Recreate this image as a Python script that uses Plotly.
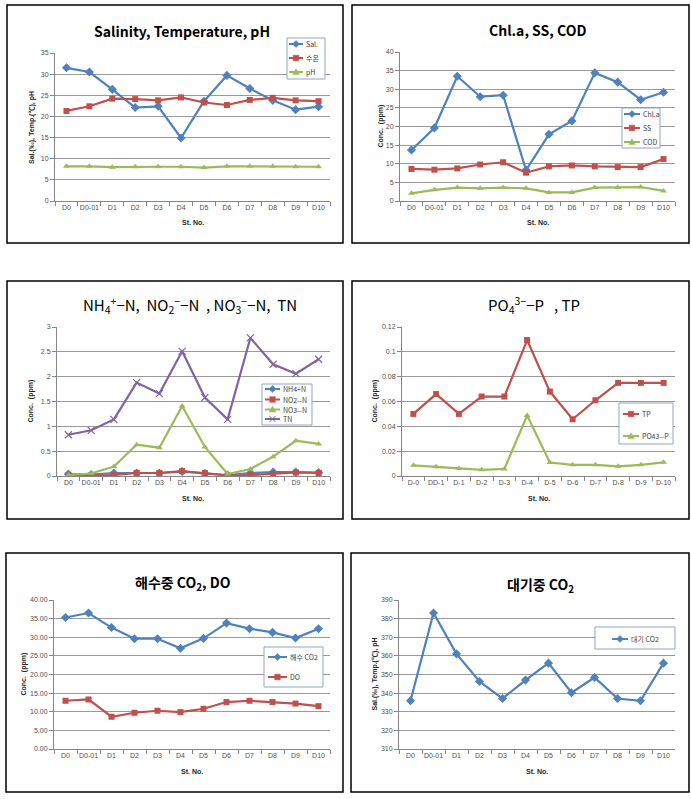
import plotly.graph_objects as go

W, H = 691, 799

st = ["D0", "D0-01", "D1", "D2", "D3", "D4", "D5", "D6", "D7", "D8", "D9", "D10"]
st_p = ["D-0", "DD-1", "D-1", "D-2", "D-3", "D-4", "D-5", "D-6", "D-7", "D-8", "D-9", "D-10"]

# Panel 1
sal = [31.5, 30.5, 26.4, 22.1, 22.4, 14.9, 23.6, 29.7, 26.6, 23.8, 21.6, 22.3]
temp = [21.3, 22.4, 24.2, 24.1, 23.8, 24.5, 23.3, 22.7, 23.9, 24.4, 23.8, 23.6]
ph = [8.2, 8.2, 8.0, 8.1, 8.1, 8.1, 7.9, 8.2, 8.2, 8.2, 8.1, 8.1]
# Panel 2
chla = [13.7, 19.6, 33.5, 28.0, 28.4, 8.3, 17.9, 21.5, 34.4, 31.9, 27.2, 29.2]
ss = [8.6, 8.4, 8.75, 9.8, 10.4, 7.6, 9.3, 9.55, 9.3, 9.1, 9.1, 11.25]
cod = [2.05, 3.0, 3.6, 3.4, 3.6, 3.4, 2.3, 2.3, 3.6, 3.6, 3.75, 2.7]
# Panel 3
nh4 = [0.04, 0.03, 0.06, 0.06, 0.06, 0.09, 0.05, 0.02, 0.06, 0.08, 0.08, 0.07]
no2 = [0.01, 0.01, 0.02, 0.06, 0.06, 0.10, 0.06, 0.01, 0.02, 0.04, 0.07, 0.06]
no3 = [0.02, 0.05, 0.19, 0.63, 0.57, 1.41, 0.585, 0.04, 0.14, 0.39, 0.71, 0.645]
tn = [0.83, 0.92, 1.14, 1.88, 1.66, 2.51, 1.58, 1.14, 2.78, 2.25, 2.06, 2.35]
# Panel 4
tp = [0.050, 0.066, 0.050, 0.064, 0.064, 0.1095, 0.068, 0.0457, 0.061, 0.075, 0.075, 0.075]
po4 = [0.0086, 0.0075, 0.006, 0.005, 0.0057, 0.0487, 0.0108, 0.009, 0.009, 0.0078, 0.009, 0.011]
# Panel 5
co2_sea = [35.3, 36.5, 32.6, 29.6, 29.6, 27.05, 29.7, 33.8, 32.3, 31.3, 29.8, 32.3]
do = [12.95, 13.3, 8.66, 9.73, 10.27, 9.9, 10.8, 12.6, 12.95, 12.6, 12.2, 11.5]
# Panel 6
co2_air = [335.9, 383.0, 361.1, 346.25, 337.1, 347.0, 356.1, 340.2, 348.4, 337.1, 335.9, 356.1]

BLUE, RED, GREEN, PURPLE = "#4F81BD", "#C0504D", "#9BBB59", "#8064A2"
FONT = "Liberation Sans, Noto Sans CJK KR, sans-serif"
KFONT = "Noto Sans CJK KR, Liberation Sans, sans-serif"


def px(x):
    return x / W


def py(y):
    return 1 - y / H


fig = go.Figure()

# legend geometry (pixels): box, item y centres, line x0/x1
panels = [
    dict(area=(55, 330, 53, 201), box=(7, 343, 5, 243), yr=(0, 35), dt=5, fmt="",
         cats=st, ytitle="Sal.(‰), Temp.(℃), pH", ytx=32,
         title="<b>Salinity, Temperature, pH</b>", tx=182, ty=31, tsize=14, xt_y=223,
         lbox=(287, 325, 38, 79), lys=[44, 58, 72], lx=(289, 303)),
    dict(area=(400, 675, 52, 201), box=(352, 689, 5, 243), yr=(0, 40), dt=5, fmt="",
         cats=st, ytitle="Conc.  (ppm)", ytx=380,
         title="<b>Chl.a, SS, COD</b>", tx=537, ty=30, tsize=14, xt_y=223,
         lbox=(622, 660, 108, 148), lys=[114, 128, 142], lx=(624, 640)),
    dict(area=(57, 330, 327, 476), box=(7, 343, 281, 519), yr=(0, 3), dt=0.5, fmt="",
         cats=st, ytitle="Conc.  (ppm)", ytx=30,
         title="NH<sub>4</sub><sup>+</sup>−N,  NO<sub>2</sub><sup>−</sup>−N  , NO<sub>3</sub><sup>−</sup>−N,  TN",
         tx=190, ty=305, tsize=15, xt_y=499,
         lbox=(262, 312, 384, 425), lys=[389, 399.5, 409.5, 419], lx=(265, 280)),
    dict(area=(402, 675, 327, 476), box=(352, 689, 281, 519), yr=(0, 0.12), dt=0.02, fmt="",
         cats=st_p, ytitle="Conc.  (ppm)", ytx=374,
         title="PO<sub>4</sub><sup>3−</sup>−P   , TP", tx=534, ty=305, tsize=15, xt_y=499,
         lbox=(619, 673, 403, 444), lys=[414, 436], lx=(623, 639)),
    dict(area=(54, 330, 600, 749), box=(6, 343, 553, 792), yr=(0, 40), dt=5, fmt=".2f",
         cats=st, ytitle="Conc.  (ppm)", ytx=23,
         title="<b>해수중 CO<sub>2</sub>, DO</b>", tx=183, ty=583, tsize=14, xt_y=771,
         lbox=(264, 323, 647, 687), lys=[657, 677], lx=(268, 287)),
    dict(area=(399, 675, 600, 749), box=(351, 689, 553, 792), yr=(310, 390), dt=10, fmt="",
         cats=st, ytitle="Sal.(‰), Temp.(℃), pH", ytx=374,
         title="<b>대기중 CO<sub>2</sub></b>", tx=540, ty=585, tsize=14, xt_y=771,
         lbox=(595, 675, 627, 649), lys=[639], lx=(612, 628)),
]

series = [
    [("Sal.", sal, BLUE, "diamond"), ("수온", temp, RED, "square"), ("pH", ph, GREEN, "triangle-up")],
    [("Chl.a", chla, BLUE, "diamond"), ("SS", ss, RED, "square"), ("COD", cod, GREEN, "triangle-up")],
    [("NH4+N", nh4, BLUE, "diamond"), ("NO2--N", no2, RED, "square"),
     ("NO3--N", no3, GREEN, "triangle-up"), ("TN", tn, PURPLE, "x-thin")],
    [("TP", tp, RED, "square"), ("PO43--P", po4, GREEN, "triangle-up")],
    [("해수 CO2", co2_sea, BLUE, "diamond"), ("DO", do, RED, "square")],
    [("대기 CO2", co2_air, BLUE, "diamond")],
]


def marker_path(sym, cx, cy):
    pts = None
    if sym == "diamond":
        pts = [(cx, cy - 3.5), (cx + 3.5, cy), (cx, cy + 3.5), (cx - 3.5, cy)]
    elif sym == "square":
        pts = [(cx - 2.8, cy - 2.8), (cx + 2.8, cy - 2.8), (cx + 2.8, cy + 2.8), (cx - 2.8, cy + 2.8)]
    elif sym == "triangle-up":
        pts = [(cx, cy - 3.2), (cx + 3.3, cy + 2.6), (cx - 3.3, cy + 2.6)]
    if pts is None:
        return None
    return "M " + " L ".join(f"{px(a):.5f},{py(b):.5f}" for a, b in pts) + " Z"


annotations = []
shapes = []
layout = {}
for i, (p, ser) in enumerate(zip(panels, series), start=1):
    x0, x1, y0, y1 = p["area"]
    sfx = "" if i == 1 else str(i)
    layout["xaxis" + sfx] = dict(
        domain=[px(x0), px(x1)], anchor="y" + sfx, type="category",
        categoryorder="array", categoryarray=p["cats"], range=[-0.5, 11.5],
        showgrid=False, showline=True, linecolor="#868686", linewidth=1,
        ticks="outside", tickson="boundaries", ticklen=4, tickcolor="#868686",
        tickangle=0, automargin=False,
        tickfont=dict(size=7, color="#505050", family=FONT), fixedrange=True,
    )
    layout["yaxis" + sfx] = dict(
        domain=[py(y1), py(y0)], anchor="x" + sfx, range=list(p["yr"]), dtick=p["dt"],
        tickformat=p["fmt"], showgrid=True, gridcolor="#9a9a9a", gridwidth=1,
        showline=True, linecolor="#868686", linewidth=1, zeroline=False,
        ticks="outside", ticklen=4, tickcolor="#868686", automargin=False,
        tickfont=dict(size=7, color="#505050", family=FONT), fixedrange=True,
    )
    for j, (name, vals, col, sym) in enumerate(ser):
        if sym == "x-thin":
            marker = dict(symbol=sym, size=7, color=col, line=dict(width=1.2, color=col))
        else:
            marker = dict(symbol=sym, size=6 if sym != "diamond" else 7, color=col)
        fig.add_trace(go.Scatter(
            x=p["cats"], y=vals, name=name, mode="lines+markers",
            line=dict(color=col, width=2.2), marker=marker,
            xaxis="x" + sfx, yaxis="y" + sfx, showlegend=False,
        ))
    # legend box
    lx0, lx1, ly0, ly1 = p["lbox"]
    shapes.append(dict(type="rect", xref="paper", yref="paper", x0=px(lx0), x1=px(lx1),
                       y0=py(ly1), y1=py(ly0), line=dict(color="#8ea4c3", width=1),
                       fillcolor="white", layer="above"))
    for (name, vals, col, sym), ly in zip(ser, p["lys"]):
        sx0, sx1 = p["lx"]
        shapes.append(dict(type="line", xref="paper", yref="paper", x0=px(sx0), x1=px(sx1),
                           y0=py(ly), y1=py(ly), line=dict(color=col, width=2), layer="above"))
        cx = (sx0 + sx1) / 2
        mp = marker_path(sym, cx, ly)
        if mp:
            shapes.append(dict(type="path", xref="paper", yref="paper", path=mp,
                               fillcolor=col, line=dict(color=col, width=0.5), layer="above"))
        else:
            for dx in (-1, 1):
                shapes.append(dict(type="line", xref="paper", yref="paper",
                                   x0=px(cx - 3), x1=px(cx + 3), y0=py(ly - 3 * dx), y1=py(ly + 3 * dx),
                                   line=dict(color=col, width=1), layer="above"))
        annotations.append(dict(text=name, x=px(sx1 + 1), y=py(ly), xref="paper", yref="paper",
                                xanchor="left", yanchor="middle", showarrow=False,
                                font=dict(size=7, color="#404040", family=KFONT)))
    # title
    annotations.append(dict(
        text=p["title"], x=px(p["tx"]), y=py(p["ty"]), xref="paper", yref="paper",
        xanchor="center", yanchor="middle", showarrow=False,
        font=dict(size=p["tsize"], color="black", family=KFONT),
    ))
    # x title
    annotations.append(dict(
        text="<b>St. No.</b>", x=px((x0 + x1) / 2), y=py(p["xt_y"]), xref="paper", yref="paper",
        xanchor="center", yanchor="middle", showarrow=False,
        font=dict(size=7, color="#262626", family=FONT),
    ))
    # y title
    annotations.append(dict(
        text="<b>" + p["ytitle"] + "</b>", x=px(p["ytx"]), y=py((y0 + y1) / 2),
        xref="paper", yref="paper", xanchor="center", yanchor="middle",
        textangle=-90, showarrow=False,
        font=dict(size=7, color="#262626", family=FONT),
    ))
    bx0, bx1, by0, by1 = p["box"]
    shapes.append(dict(
        type="rect", xref="paper", yref="paper", x0=px(bx0), x1=px(bx1),
        y0=py(by1), y1=py(by0), line=dict(color="black", width=1.5), layer="below",
    ))

fig.update_layout(
    width=W, height=H, autosize=False,
    margin=dict(l=0, r=0, t=0, b=0),
    paper_bgcolor="white", plot_bgcolor="white",
    font=dict(family=FONT), showlegend=False,
    annotations=annotations, shapes=shapes,
    **layout,
)

fig.write_html(
    "out.html",
    config={"displayModeBar": False},
    post_script="document.body.style.margin='0px';document.body.style.overflow='hidden';",
)
